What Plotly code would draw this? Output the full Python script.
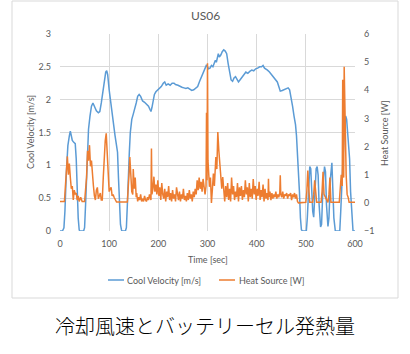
import plotly.graph_objects as go

# ---------------- data ----------------
vel_t = [0, 5, 8, 10, 13, 16, 19, 21, 23, 25, 28, 31, 33, 35, 37, 39, 40, 48, 50, 52, 55, 58, 61, 64, 67, 70, 74, 78, 81, 84, 87, 90, 93, 95, 97, 100, 103, 106, 109, 112, 115, 117, 119, 121, 123, 125, 126, 133, 135, 137, 139, 141, 143, 146, 149, 152, 155, 158, 161, 164, 168, 172, 176, 180, 183, 185, 187, 189, 192, 195, 198, 202, 206, 210, 213, 216, 220, 224, 228, 232, 235, 240, 244, 248, 252, 256, 260, 264, 268, 272, 276, 280, 284, 288, 292, 295, 298, 300, 302, 305, 308, 311, 314, 316, 318, 320, 322, 324, 327, 330, 333, 336, 339, 342, 345, 348, 351, 354, 357, 360, 363, 366, 370, 374, 378, 382, 386, 390, 394, 398, 402, 406, 410, 413, 416, 419, 422, 426, 430, 434, 438, 442, 445, 448, 452, 456, 460, 464, 467, 470, 473, 476, 479, 481, 483, 485, 487, 489, 491, 493, 501, 503, 506, 508, 510, 512, 514, 516, 518, 521, 523, 525, 527, 530, 532, 535, 538, 540, 542, 545, 547, 550, 553, 555, 557, 560, 569, 571, 575, 578, 581, 583, 585, 587, 589, 591, 594, 596, 600]
vel_v = [0, 0, 0.05, 0.3, 0.9, 1.3, 1.45, 1.52, 1.45, 1.38, 1.35, 1.33, 1.1, 0.6, 0.2, 0.02, 0, 0, 0.05, 0.4, 1.1, 1.55, 1.75, 1.9, 1.95, 1.9, 1.83, 1.8, 1.82, 1.95, 2.1, 2.3, 2.42, 2.44, 2.38, 2.15, 1.95, 1.75, 1.6, 1.45, 1.3, 1.2, 0.8, 0.4, 0.1, 0.02, 0, 0, 0.05, 0.4, 0.9, 1.2, 1.5, 1.7, 1.78, 1.85, 1.95, 2.05, 2.08, 2.05, 1.98, 1.96, 1.93, 1.9, 1.85, 1.82, 1.88, 1.98, 2.08, 2.12, 2.14, 2.18, 2.2, 2.25, 2.27, 2.22, 2.24, 2.22, 2.25, 2.25, 2.23, 2.22, 2.2, 2.19, 2.18, 2.17, 2.18, 2.16, 2.14, 2.15, 2.17, 2.2, 2.28, 2.35, 2.4, 2.48, 2.53, 2.5, 2.47, 2.48, 2.52, 2.5, 2.55, 2.6, 2.57, 2.65, 2.7, 2.65, 2.68, 2.73, 2.76, 2.74, 2.7, 2.55, 2.4, 2.3, 2.28, 2.33, 2.35, 2.3, 2.27, 2.3, 2.35, 2.38, 2.42, 2.4, 2.43, 2.45, 2.44, 2.47, 2.48, 2.5, 2.5, 2.52, 2.48, 2.47, 2.45, 2.42, 2.38, 2.35, 2.3, 2.27, 2.2, 2.13, 2.14, 2.15, 2.17, 2.18, 2.15, 2.05, 1.9, 1.75, 1.62, 1.45, 1.2, 1.0, 0.6, 0.2, 0.02, 0, 0, 0.2, 0.7, 0.98, 0.95, 0.6, 0.3, 0.21, 0.5, 0.95, 0.98, 0.85, 0.4, 0.06, 0.1, 0.7, 0.98, 0.9, 0.4, 0.07, 0.2, 0.8, 1.04, 0.7, 0.2, 0, 0, 0.3, 1.0, 1.5, 1.75, 1.7, 1.5, 1.35, 1.1, 0.6, 0.15, 0, 0]

heat_t = [0, 9, 11, 13, 15, 17, 19, 21, 23, 25, 27, 29, 31, 33, 35, 37, 39, 42, 45, 50, 52, 54, 56, 58, 60, 62, 64, 66, 68, 70, 72, 74, 76, 78, 80, 82, 84, 86, 88, 90, 92, 94, 96, 98, 100, 102, 104, 106, 108, 110, 112, 115, 137, 139, 141, 142, 144, 146, 148, 149, 151, 153, 155,
          156, 158, 160, 162, 164, 166, 168, 170, 172, 174, 176, 178, 180, 182, 184, 185, 186, 187, 189, 191, 193, 195, 197, 199, 201, 203, 205, 207, 209, 211, 213, 215, 217, 219, 221, 223, 225, 227, 229, 231, 233, 235, 237, 239, 241, 243, 245, 247, 249, 251, 253, 255, 257, 259, 261, 263, 265, 267, 269, 271, 273, 275, 277, 279, 281, 283, 285, 287, 289, 291, 293, 295,
          297, 298, 299, 300, 301, 302, 304, 306, 308, 310, 312, 314, 315, 317, 319, 321, 323, 325, 327, 329, 331, 333, 335, 337, 339, 341, 343, 345, 347, 349, 351, 353, 355, 357, 359, 361, 363, 365, 367, 369, 371, 373, 375, 377, 379, 381, 383, 385, 387, 389, 391, 393, 395, 397, 399, 401, 403, 405, 407, 409, 411, 413, 415, 417, 419, 421, 423, 424, 425, 427, 429, 431, 433, 435, 437, 439, 441, 443, 445, 447, 448, 449, 451, 453, 455, 457, 459, 461, 463, 465, 467, 469, 471, 473, 475, 477, 479, 481, 483, 485,
          500, 502, 504, 506, 508, 514, 516, 518, 520, 522, 531, 533, 535, 537, 545, 547, 549, 551, 568, 570, 572, 574, 575, 576, 577, 578, 580, 582, 584, 586, 588, 600]
heat_w = [0.05, 0.05, 0.6, 1.1, 1.65, 1.0, 1.4, 0.9, 0.5, 0.6, 0.1, 0.45, 0.3, 0.35, 0.1, 0.25, 0.05, 0.2, 0.05, 0.05, 0.4, 0.9, 1.85, 1.5, 2.05, 1.3, 1.5, 0.9, 0.6, 0.25, 0.1, 0.45, 0.55, 0.15, 0.3, 0.35, 0.1, 0.1, 0.9, 1.8, 2.2, 2.47, 1.9, 1.2, 0.4, 0.5, 0.55, 0.25, 0.3, 0.2, 0.1, 0.03, 0.03, 0.5, 1.2, 1.63, 0.9, 0.4, 0.3, 1.2, 0.5, 0.9, 0.2,
          0.35, 0.05, 0.2, 0.1, 0.3, 0.05, 0.15, 0.05, 0.25, 0.1, 0.05, 0.2, 0.1, 0.3, 0.15, 0.1, 1.93, 0.3, 0.5, 0.93, 0.4, 0.65, 0.3, 0.8, 0.25, 0.55, 0.1, 0.7, 0.3, 0.15, 0.5, 0.05, 0.4, 0.2, 0.6, 0.1, 0.35, 0.05, 0.45, 0.15, 0.3, 0.05, 0.55, 0.2, 0.1, 0.4, 0.05, 0.3, 0.15, 0.5, 0.1, 0.25, 0.05, 0.35, 0.1, 0.45, 0.15, 0.3, 0.05, 0.4, 0.2, 0.5, 0.3, 0.8, 0.45, 0.9, 0.5, 0.75, 0.4, 0.85, 0.55, 0.3,
          0.6, 3.2, 0.8, 4.96, 1.5, 1.16, 0.57, 0.9, 0.0, 0.5, 1.04, 0.6, 1.16, 1.63, 1.2, 2.52, 1.87, 1.5, 0.92, 0.5, 0.92, 0.3, 0.05, 0.6, 0.2, 0.7, 0.1, 0.5, 0.05, 0.9, 0.3, 0.6, 0.1, 0.4, 0.2, 0.7, 0.05, 0.55, 0.25, 0.6, 0.1, 0.45, 0.2, 0.8, 0.3, 0.55, 0.05, 0.7, 0.2, 0.5, 0.15, 0.85, 0.3, 0.6, 0.1, 0.5, 0.25, 0.75, 0.1, 0.45, 0.2, 0.65, 0.05, 0.5, 0.15, 0.35, 0.1, 0.86, 0.2, 0.4, 0.1, 0.35, 0.15, 0.3, 0.2, 0.4, 0.15, 0.3, 0.2, 0.35, 0.98, 0.3, 0.2, 0.4, 0.15, 0.3, 0.25, 0.35, 0.15, 0.3, 0.25, 0.35, 0.1, 0.3, 0.2, 0.35, 0.15, 0.3, 0.05, 0.0,
          0.02, 0.4, 1.15, 0.5, 0.02, 0.02, 0.3, 0.8, 0.3, 0.02, 0.02, 0.4, 1.1, 0.3, 0.02, 0.3, 0.9, 0.02, 0.02, 0.4, 1.0, 0.6, 4.37, 1.0, 0.9, 4.84, 2.0, 1.0, 0.3, 0.2, 0.02, 0.02]

x_ticks = [0, 100, 200, 300, 400, 500, 600]
title_text = "US06"
caption_text = "冷却風速とバッテリーセル発熱量"
name_vel = "Cool Velocity [m/s]"
name_heat = "Heat Source [W]"

BLUE = "#5B9BD5"
ORANGE = "#ED7D31"
GRAY = "#595959"
GRID = "#D9D9D9"
FONT = "Lato"

W, H = 410, 354
L, R, T, B = 60, 55, 34, 123
PW, PH = W - L - R, H - T - B


def px(x):
    return (x - L) / PW


def py(y):
    return 1 - (y - T) / PH


fig = go.Figure()
fig.add_trace(go.Scatter(x=vel_t, y=vel_v, mode="lines", name=name_vel,
                         line=dict(color=BLUE, width=1.5), yaxis="y"))
fig.add_trace(go.Scatter(x=heat_t, y=heat_w, mode="lines", name=name_heat,
                         line=dict(color=ORANGE, width=1.5), yaxis="y2"))

annotations = [
    dict(text=title_text, x=px(205), y=py(15), font=dict(size=12, color=GRAY, family=FONT)),
    dict(text="Time [sec]", x=px(208), y=py(259), font=dict(size=9, color=GRAY, family=FONT)),
    dict(text=name_vel, x=px(30), y=py(132), textangle=-90, font=dict(size=9, color=GRAY, family=FONT)),
    dict(text=name_heat, x=px(384), y=py(133), textangle=-90, font=dict(size=9, color=GRAY, family=FONT)),
    dict(text=name_vel, x=px(125), y=py(280), xanchor="left", font=dict(size=9, color=GRAY, family=FONT)),
    dict(text=name_heat, x=px(237), y=py(280), xanchor="left", font=dict(size=9, color=GRAY, family=FONT)),
    dict(text=caption_text, x=px(205), y=py(325),
         font=dict(size=20, color="black", family="Noto Sans CJK JP", weight=300)),
]
for a in annotations:
    a.update(xref="paper", yref="paper", showarrow=False)
    a.setdefault("xanchor", "center")
    a.setdefault("yanchor", "middle")

shapes = [
    dict(type="rect", xref="paper", yref="paper", x0=px(12), x1=px(398), y0=py(298), y1=py(1),
         line=dict(color=GRID, width=1), fillcolor="rgba(0,0,0,0)"),
    dict(type="line", xref="paper", yref="paper", x0=px(108), x1=px(124), y0=py(280), y1=py(280),
         line=dict(color=BLUE, width=1.5)),
    dict(type="line", xref="paper", yref="paper", x0=px(219), x1=px(235), y0=py(280), y1=py(280),
         line=dict(color=ORANGE, width=1.5)),
]

tickfont = dict(size=9, color=GRAY, family=FONT)
fig.update_layout(
    width=W, height=H, margin=dict(l=L, r=R, t=T, b=B, pad=0),
    paper_bgcolor="white", plot_bgcolor="white",
    showlegend=False,
    xaxis=dict(range=[0, 600], tickvals=x_ticks, showgrid=True, gridcolor=GRID, gridwidth=1,
               zeroline=False, showline=False, ticks="", tickfont=tickfont, ticklabelstandoff=6),
    yaxis=dict(range=[0, 3], dtick=0.5, showgrid=True, gridcolor=GRID, gridwidth=1,
               zeroline=False, showline=False, ticks="", tickfont=tickfont, ticklabelstandoff=8),
    yaxis2=dict(range=[-1, 6], dtick=1, overlaying="y", side="right", showgrid=False,
                zeroline=False, showline=False, ticks="", tickfont=tickfont, ticklabelstandoff=8),
    annotations=annotations,
    shapes=shapes,
)

fig.write_html("out.html", config=dict(displayModeBar=False))
